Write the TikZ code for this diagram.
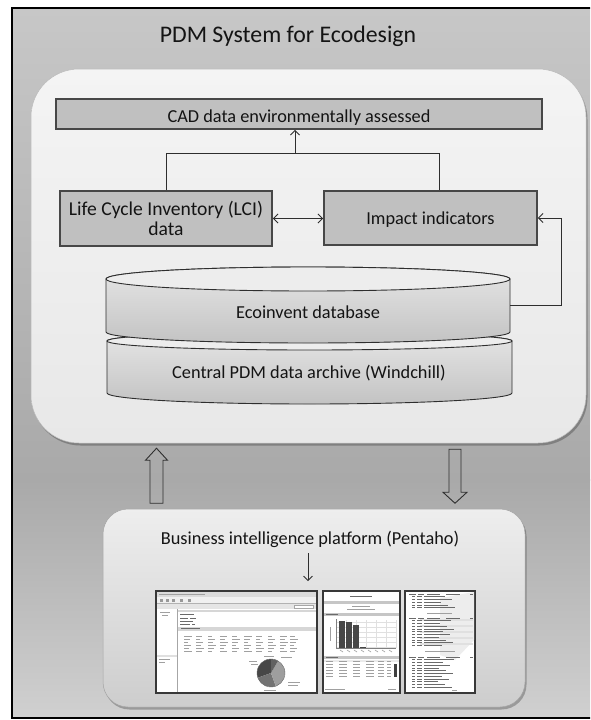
\documentclass[tikz,border=0pt]{standalone}
\usepackage{fontspec}
\setmainfont{Carlito}
\usetikzlibrary{arrows.meta,calc,shadows}

\definecolor{bgA}{HTML}{C7C7C7}
\definecolor{bgB}{HTML}{A9A9A9}
\definecolor{bgC}{HTML}{D0D0D0}
\definecolor{boxfill}{HTML}{C0C0C0}
\definecolor{boxline}{HTML}{474747}
\definecolor{linec}{HTML}{2E2E2E}
\definecolor{txtc}{HTML}{141414}
\definecolor{pdmA}{HTML}{F4F4F4}
\definecolor{pdmB}{HTML}{E8E8E8}
\definecolor{cylA}{HTML}{E6E6E6}
\definecolor{cylB}{HTML}{C3C3C3}
\definecolor{cyltop}{HTML}{EDEDED}
\definecolor{biA}{HTML}{EEEEEE}
\definecolor{biB}{HTML}{CDCDCD}
\definecolor{scline}{HTML}{383838}
\definecolor{tl}{HTML}{A0A0A0}
\definecolor{td}{HTML}{6A6A6A}
\definecolor{band}{HTML}{C6C6C6}

\tikzset{
  lbl/.style={font=\fontsize{18.3}{20}\selectfont, text=txtc, inner sep=0pt},
  boxc/.style={draw=boxline, line width=1.8pt, fill=boxfill, inner sep=0pt,
               font=\fontsize{18.3}{20}\selectfont, text=txtc},
  conn/.style={draw=linec, line width=0.9pt},
  arr/.style={conn, -{Straight Barb[length=4.5pt,width=9pt]}},
  dblarr/.style={conn, {Straight Barb[length=4.5pt,width=9pt]}-{Straight Barb[length=4.5pt,width=9pt]}},
  hollow/.style={draw=linec, line width=0.9pt, line join=miter},
  cylbody/.style={draw=linec, line width=0.9pt, top color=cylA, bottom color=cylB},
  cyltopface/.style={draw=linec, line width=0.9pt, fill=cyltop},
  shot/.style={draw=scline, line width=1.6pt, fill=white, inner sep=0pt},
  tiny/.style={draw=tl, line width=0.6pt},
  tinyd/.style={draw=td, line width=0.6pt},
}

\begin{document}
\begin{tikzpicture}[x=1pt,y=-1pt]
\useasboundingbox (0,0) rectangle (590,720);
\clip (0,0) rectangle (590,720);
\fill[white] (0,0) rectangle (590,720);

% outer frame background
\shade[top color=bgA, bottom color=bgB] (12,8) rectangle (592,480);
\shade[top color=bgB, bottom color=bgC] (12,479.5) rectangle (592,718);
\draw[line width=2.5pt, black] (12,8) rectangle (592,718);

% title
\node[lbl, font=\fontsize{23.8}{26}\selectfont, anchor=base] (title) at (288,42.5) {PDM System for Ecodesign};

% PDM system container
\node[draw=pdmB!80!black, line width=0.5pt, rounded corners=48pt, top color=pdmA, bottom color=pdmB,
      minimum width=555pt, minimum height=374pt, inner sep=0pt,
      drop shadow={shadow xshift=1.5pt, shadow yshift=-2.5pt, fill=black, opacity=0.25}]
      (pdm) at (308.5,256) {};

% boxes
\node[boxc, minimum width=486pt, minimum height=30pt, text height=16pt, text depth=0pt]
      (cad) at (299,114) {CAD data environmentally assessed};
\node[boxc, minimum width=212pt, minimum height=55pt, align=center,
      font=\fontsize{19.6}{20.5}\selectfont]
      (lci) at (166,218.5) {Life Cycle Inventory (LCI)\\data};
\node[boxc, minimum width=213pt, minimum height=54pt, text height=13pt, text depth=0pt]
      (imp) at (430.5,218) {Impact indicators};

% connectors between boxes
\coordinate (jl) at (166,153);
\coordinate (jr) at (439,153);
\coordinate (jm) at (295,153);
\draw[conn] (jl |- lci.north) -- (jl) -- (jr) -- (jr |- imp.north);
\draw[arr] (jm) -- (jm |- cad.south);
\draw[dblarr] (lci.east) -- (lci.east -| imp.west);

% cylinders: Central PDM data archive (drawn first, underneath)
\draw[cylbody] (107,341) -- (107,393)
   arc[start angle=180, end angle=360, x radius=202.5pt, y radius=11pt]
   -- (512,341)
   arc[start angle=0, end angle=180, x radius=202.5pt, y radius=9pt] -- cycle;
\draw[cyltopface] (309.5,341) ellipse[x radius=202.5pt, y radius=9pt];
\node[lbl, anchor=base] (arch) at (309,378) {Central PDM data archive (Windchill)};

% Ecoinvent database
\draw[cylbody] (106,279) -- (106,332)
   arc[start angle=180, end angle=360, x radius=202pt, y radius=11pt]
   -- (510,279)
   arc[start angle=0, end angle=180, x radius=202pt, y radius=12pt] -- cycle;
\draw[cyltopface] (308,279) ellipse[x radius=202pt, y radius=12pt];
\node[lbl, anchor=base] (eco) at (308,318) {Ecoinvent database};
\coordinate (ecoR) at (510,305);
\coordinate (fb) at (561,305);
\draw[arr] (ecoR) -- (fb) -- (fb |- imp.east) -- (imp.east);

% Business intelligence platform container
\node[draw=biB!80!black, line width=0.5pt, rounded corners=25pt, top color=biA, bottom color=biB,
      minimum width=422pt, minimum height=198pt, inner sep=0pt,
      drop shadow={shadow xshift=1.5pt, shadow yshift=-2.5pt, fill=black, opacity=0.25}]
      (bi) at (314,608) {};
\node[lbl, anchor=base] (bit) at (310,544) {Business intelligence platform (Pentaho)};

% hollow arrows between containers
\coordinate (ua) at (156.5,0);
\coordinate (da) at (455,0);
\draw[hollow] ($(ua |- pdm.south)+(0,5)$) -- ++(11,12) -- ++(-4.5,0) -- ++(0,43)
   -- ++(-13,0) -- ++(0,-43) -- ++(-4.5,0) -- cycle;
\draw[hollow] ($(da |- pdm.south)+(-6,6)$) -- ++(12,0) -- ++(0,43) -- ++(6,0)
   -- ++(-12,11) -- ++(-12,-11) -- ++(6,0) -- cycle;

% screenshots
\node[shot, minimum width=161pt, minimum height=102pt] (sc1) at (236.5,642) {};
\node[shot, minimum width=77pt, minimum height=102pt] (sc2) at (361.5,642) {};
\node[shot, minimum width=70pt, minimum height=102pt] (sc3) at (440,642) {};

\coordinate (ba) at (308,553);
\draw[arr, shorten >=9pt] (ba) -- (ba |- sc1.north);

% --- screenshot 1 content
\fill[black!14] (157,592) rectangle (316,596.5);
\draw[tiny] (159,594.2) -- (205,594.2);
\fill[black!6] (157,597) rectangle (316,603);
\foreach \x in {160,166,172,180,188} \fill[black!40] (\x,598.5) rectangle ++(3,3);
\draw[black!30, line width=0.4pt] (157,603.5) -- (316,603.5);
\fill[black!10] (157,604) rectangle (316,609);
\draw[black!35, line width=0.4pt, fill=white] (294,605) rectangle (313,608);
\draw[black!35, line width=0.5pt] (177,609) -- (177,692);
\fill[black!12] (157,654.5) rectangle (177,657);
\draw[tiny] (160,612) -- (170,612) (162,615) -- (168,615) (159,659.5) -- (170,659.5) (159,662.5) -- (165,662.5);
\fill[black!16] (178,609.5) rectangle (316,612);
\draw[tinyd] (180,614.5) -- (194,614.5) (180,618) -- (188,618) (190,618) -- (196,618)
             (180,621) -- (193,621) (180,624) -- (190,624) (192,624) -- (195,624);
\fill[black!16] (178,627) rectangle (316,630.5);
\draw[tinyd] (181,628.7) -- (200,628.7);
\foreach \r in {636,639,642,645,648,651}
  \foreach \c [count=\k] in {184,196,208,220,232,244,256,268,280,290}
    {\pgfmathtruncatemacro\w{4+mod(\k*3+\r,5)}
     \draw[tiny] (\c,\r) -- ++(\w,0);}
% pie chart
\fill[black!72] (271,673) -- ++(90:14pt) arc[start angle=90, end angle=200, radius=14pt] -- cycle;
\fill[black!55] (271,673) -- ++(200:14pt) arc[start angle=200, end angle=290, radius=14pt] -- cycle;
\fill[black!38] (271,673) -- ++(290:14pt) arc[start angle=290, end angle=420, radius=14pt] -- cycle;
\fill[black!62] (271,673) -- ++(60:14pt) arc[start angle=60, end angle=90, radius=14pt] -- cycle;
\draw[black!60, line width=0.4pt] (271,673) circle[radius=14pt];
\draw[tiny] (249,661) -- (257,661) (251,664) -- (258,664) (264,656) -- (274,656)
            (281,657) -- (292,657) (288,682) -- (300,682) (288,685.5) -- (298,685.5)
            (264,690) -- (276,690);

% --- screenshot 2 content
\draw[tinyd] (350,596.3) -- (372,596.3);
\fill[band] (324,601) rectangle (399,604);
\draw[tiny] (352,606.5) -- (370,606.5) (347,609.3) -- (375,609.3);
\fill[band] (324,613) rectangle (399,616);
\draw[tinyd] (326,614.5) -- (338,614.5);
\foreach \y in {622,627,632,637,642,647} \draw[black!12, line width=0.3pt] (336,\y) -- (396,\y);
\foreach \x in {346,356,366,376,386,396} \draw[black!12, line width=0.3pt] (\x,620) -- (\x,648);
\draw[black!50, line width=0.4pt] (336,619) -- (336,648) -- (396,648);
\draw[tiny] (330,627) -- (330,641);
\fill[black!72] (339,621) rectangle (345,648);
\fill[black!72] (346,622) rectangle (352,648);
\fill[black!72] (353,625) rectangle (359,648);
\fill[black!72] (360,646.8) rectangle (366,648);
\foreach \x in {340,347,354,361,368,375,382,389} \draw[tiny] (\x,650) -- ++(3,2);
\fill[band] (324,656) rectangle (399,659);
\draw[tinyd] (326,657.5) -- (338,657.5);
\fill[black!8] (324,660.3) rectangle (399,662.3);
\foreach \y in {661.3,664,667,670,673,676}
  \draw[tiny] (326,\y) -- (333,\y) (339,\y) -- (347,\y) (353,\y) -- (360,\y)
              (366,\y) -- (374,\y) (378,\y) -- (384,\y) (387,\y) -- (391,\y);
\fill[black!75] (394,663.5) rectangle (397,677);
\draw[tiny] (325,689) -- (345,689) (388,689) -- (396,689);

% --- screenshot 3 content
\fill[black!7] (440,598) -- (474,592) -- (474,640) -- (455,660) -- (440,655) -- cycle;
\foreach \y in {620,626,632,638,644} \fill[black!12] (420,\y-1.1) rectangle (473,\y+1.1);
\foreach \g/\n in {594/5,618/10,657/11}
  {\draw[tinyd] (409,\g) -- (416,\g) (418,\g) -- (424,\g) (427,\g) -- (440,\g) (446,\g) -- (460,\g) (470,\g) -- (473,\g);
   \foreach \i in {1,...,\n}
     {\pgfmathsetmacro\yy{\g+\i*2.75}
      \pgfmathtruncatemacro\w{14+mod(\i*7+\g,18)}
      \draw[tinyd] (412,\yy) -- (415,\yy) (417,\yy) -- (422,\yy) (424,\yy) -- ++(\w,0);}}
\draw[tiny] (427,613) -- (452,613) (425,651.5) -- (455,651.5) (452,690) -- (457,690);
\end{tikzpicture}
\end{document}
